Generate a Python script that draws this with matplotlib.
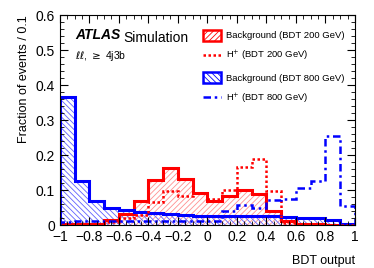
import matplotlib
matplotlib.use("Agg")
import matplotlib.pyplot as plt
import numpy as np
from matplotlib.patches import Patch
from matplotlib.lines import Line2D
from matplotlib.ticker import MultipleLocator

plt.rcParams['font.family'] = ['Liberation Sans', 'DejaVu Sans']
plt.rcParams['hatch.linewidth'] = 0.6

# BDT output bins, width 0.1
Edges = np.round(np.arange(-1.0, 1.01, 0.1), 2)

Bkg200 = [0.002, 0.002, 0.003, 0.014, 0.033, 0.068, 0.13, 0.164, 0.133, 0.092,
          0.07, 0.084, 0.1, 0.088, 0.041, 0.012, 0.003, 0.002, 0.001, 0.0]
Sig200 = [0.002, 0.002, 0.004, 0.01, 0.02, 0.03, 0.066, 0.097, 0.083, 0.093,
          0.076, 0.1, 0.167, 0.188, 0.097, 0.005, 0.001, 0.0, 0.0, 0.0]
Bkg800 = [0.365, 0.125, 0.07, 0.05, 0.042, 0.037, 0.034, 0.031, 0.028, 0.027,
          0.027, 0.026, 0.026, 0.025, 0.025, 0.024, 0.021, 0.019, 0.016, 0.003]
Sig800 = [0.01, 0.011, 0.012, 0.012, 0.012, 0.012, 0.012, 0.012, 0.012, 0.012,
          0.013, 0.04, 0.057, 0.05, 0.071, 0.076, 0.105, 0.127, 0.255, 0.055]

XTicks = [-1, -0.8, -0.6, -0.4, -0.2, 0, 0.2, 0.4, 0.6, 0.8, 1]
XTickLabels = ['\u22121', '\u22120.8', '\u22120.6', '\u22120.4', '\u22120.2', '0', '0.2', '0.4', '0.6', '0.8', '1']
YTicks = [0, 0.1, 0.2, 0.3, 0.4, 0.5, 0.6]
YTickLabels = ['0', '0.1', '0.2', '0.3', '0.4', '0.5', '0.6']

Red = '#ff0000'
Blue = '#0000ff'

fig = plt.figure(figsize=(3.74, 2.68), dpi=100)
ax = fig.add_axes([0.160, 0.160, 0.789, 0.784])

# hatched fills first, then the thick outlines
ax.stairs(Bkg200, Edges, fill=True, hatch='//////', facecolor='none', edgecolor='#ff9090', linewidth=0)
ax.stairs(Bkg800, Edges, fill=True, hatch='\\\\\\\\\\\\', facecolor='none', edgecolor='#6060ff', linewidth=0)
ax.stairs(Bkg200, Edges, color=Red, linewidth=2.2)
ax.stairs(Bkg800, Edges, color=Blue, linewidth=2.2)
ax.stairs(Sig200, Edges, color=Red, linewidth=1.8, linestyle=(0, (1, 1)))
ax.stairs(Sig800, Edges, color=Blue, linewidth=1.8, linestyle=(0, (3, 1.5, 1, 1.5)))

ax.set_xlim(-1, 1)
ax.set_ylim(0, 0.6)
ax.set_xticks(XTicks)
ax.set_xticklabels(XTickLabels)
ax.set_yticks(YTicks)
ax.set_yticklabels(YTickLabels)
ax.xaxis.set_minor_locator(MultipleLocator(0.05))
ax.yaxis.set_minor_locator(MultipleLocator(0.02))
ax.tick_params(which='both', direction='in', top=True, right=True, labelsize=10)
ax.tick_params(which='major', length=6)
ax.tick_params(which='minor', length=3)

ax.set_xlabel('BDT output', fontsize=9, loc='right', labelpad=8)
ax.set_ylabel('Fraction of events / 0.1', fontsize=9, loc='top', labelpad=4)

AtlasText = ax.text(0.053, 0.885, 'ATLAS', transform=ax.transAxes, fontsize=10, fontweight='bold', fontstyle='italic')
ax.annotate('Simulation', xy=(1, 0), xycoords=AtlasText, xytext=(2, 0), textcoords='offset points', fontsize=10)
ax.text(0.053, 0.79, r'$\ell\ell$, $\geq$ 4j3b', transform=ax.transAxes, fontsize=7.5)

Handles = [Patch(facecolor='none', edgecolor=Red, hatch='//////', linewidth=1.8),
           Line2D([0], [0], color=Red, linewidth=1.8, linestyle=(0, (1, 1))),
           Patch(facecolor='none', edgecolor=Blue, hatch='\\\\\\\\\\\\', linewidth=1.8),
           Line2D([0], [0], color=Blue, linewidth=1.8, linestyle=(0, (3, 1.5, 1, 1.5)))]
Labels = ['Background (BDT 200 GeV)', 'H$^{+}$ (BDT 200 GeV)',
          'Background (BDT 800 GeV)', 'H$^{+}$ (BDT 800 GeV)']
ax.legend(Handles, Labels, loc='upper left', bbox_to_anchor=(0.455, 0.97), frameon=False,
          fontsize=6.8, handlelength=2.0, handleheight=1.4, labelspacing=0.9, handletextpad=0.5)

fig.savefig('out.png', dpi=100)
